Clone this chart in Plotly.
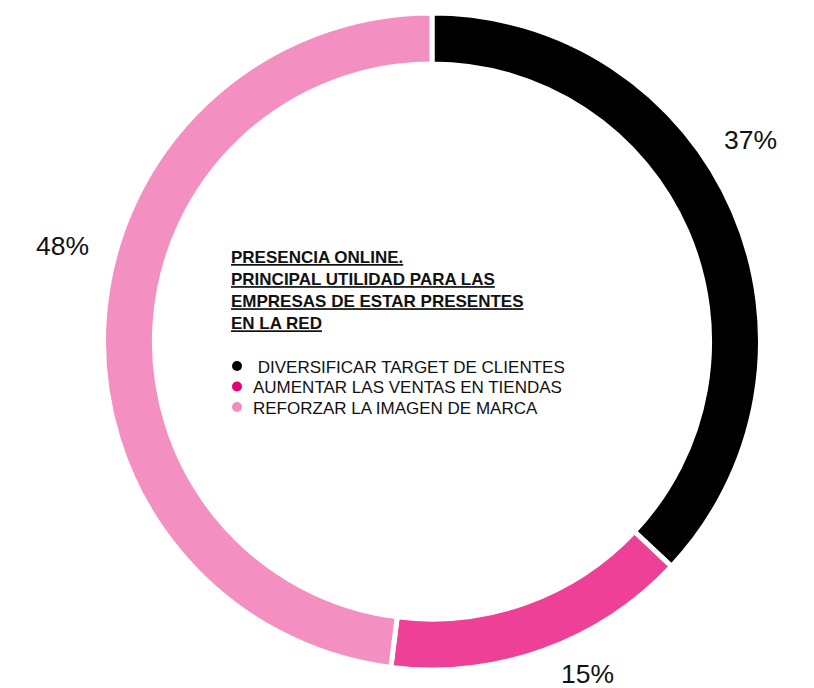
import math
import plotly.graph_objects as go

# ---- data ----
categories = ["DIVERSIFICAR TARGET DE CLIENTES", "AUMENTAR LAS VENTAS EN TIENDAS", "REFORZAR LA IMAGEN DE MARCA"]
values = [37, 15, 48]
value_labels = ["37%", "15%", "48%"]
title_lines = ["PRESENCIA ONLINE.", "PRINCIPAL UTILIDAD PARA LAS", "EMPRESAS DE ESTAR PRESENTES", "EN LA RED"]

# ---- styles / layout ----
slice_colors = ["#000000", "#EE4097", "#F48FC2"]
legend_colors = ["#000000", "#E5007D", "#F08CBE"]
W, H = 814, 688
OFF = 8                      # page body margin compensation
CX, CY = 432 - OFF, 341.5 - OFF   # pie centre in px (from top-left of figure)
R = 328.5                    # pie radius in px
label_radius_px = [377, 367, 382]
label_nudge_deg = [-8.9, -5.2, 10.9]
FONT = "Liberation Sans, Arial, sans-serif"


def px2paper(x, y):
    return x / W, 1 - y / H


fig = go.Figure()
fig.add_trace(go.Pie(
    labels=categories, values=values, sort=False, direction="clockwise", rotation=0,
    hole=0.845, marker=dict(colors=slice_colors, line=dict(color="white", width=5)),
    textinfo="none", hoverinfo="label+percent", showlegend=False,
    domain=dict(x=[(CX - R) / W, (CX + R) / W], y=[(H - CY - R) / H, (H - CY + R) / H]),
))

# value labels placed from data (mid-angle of each slice)
total = sum(values)
cum = 0
for v, lab, nd, lr in zip(values, value_labels, label_nudge_deg, label_radius_px):
    mid = (cum + v / 2) / total * 360 + nd
    cum += v
    th = math.radians(mid)
    x, y = px2paper(CX + lr * math.sin(th), CY - lr * math.cos(th))
    fig.add_annotation(x=x, y=y, xref="paper", yref="paper", text=lab,
                       showarrow=False, xanchor="center", yanchor="middle",
                       font=dict(family=FONT, size=26.5, color="#111111"))

# centre title
tx, ty = px2paper(229 - OFF, 291 - OFF)
fig.add_annotation(x=tx, y=ty, xref="paper", yref="paper",
                   text="<br>".join(title_lines), showarrow=False, align="left",
                   xanchor="left", yanchor="middle",
                   font=dict(family=FONT, size=17, color="#111111",
                             weight="bold", lineposition="under"))

# centre legend (dot + label per category)
LEG_TOP, LEG_STEP = 366, 20.5
DOT_X, TEXT_X = 237, 251
for i, (cat, col) in enumerate(zip(categories, legend_colors)):
    yc = LEG_TOP + i * LEG_STEP - OFF
    dx = DOT_X - OFF
    fig.add_shape(type="circle", xref="paper", yref="paper",
                  x0=(dx - 5) / W, x1=(dx + 5) / W, y0=1 - (yc + 5) / H, y1=1 - (yc - 5) / H,
                  fillcolor=col, line=dict(width=0))
    label = ("\u00a0" + cat) if i == 0 else cat
    lx, ly = px2paper(TEXT_X - OFF, yc + 1)
    fig.add_annotation(x=lx, y=ly, xref="paper", yref="paper", text=label,
                       showarrow=False, xanchor="left", yanchor="middle",
                       font=dict(family=FONT, size=17, color="#111111"))

fig.update_layout(
    width=W, height=H, margin=dict(l=0, r=0, t=0, b=0),
    paper_bgcolor="white", plot_bgcolor="white", showlegend=False,
)

fig.write_html("out.html")
